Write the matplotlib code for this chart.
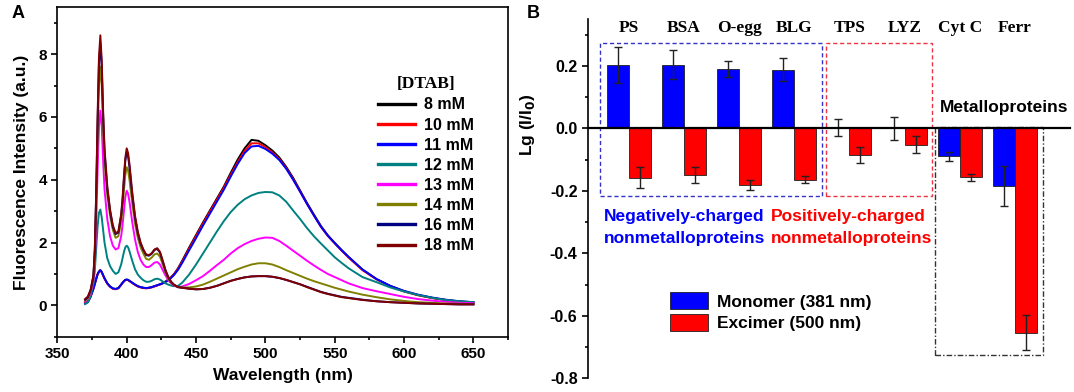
import matplotlib
matplotlib.use("Agg")
import matplotlib.pyplot as plt
from matplotlib.patches import Rectangle
from matplotlib.ticker import MultipleLocator
import numpy as np

plt.rcParams['font.family'] = ['Liberation Sans', 'DejaVu Sans']
plt.rcParams['font.weight'] = 'bold'
plt.rcParams['axes.unicode_minus'] = False

# ---- Panel A: emission spectra at different [DTAB] ----
wavelength = [370, 372, 374, 376, 377, 378, 379, 380, 381, 382, 383, 384,
              386, 388, 390, 392, 394, 396,
              397, 398, 399, 400, 401, 402,
              404, 406, 408, 410, 412, 414, 416, 418, 420, 422, 424, 426, 428, 430, 432, 434,
              437, 440,
              445, 450, 455, 460, 465, 470, 475, 480, 485, 490, 495, 500, 505, 510, 515, 520,
              525, 530, 535, 540, 545, 550, 555, 560,
              570, 580, 590, 600, 610, 620, 630, 640, 650]

dtab_8 = [0.08, 0.12, 0.3, 0.55, 0.7, 0.85, 1.0, 1.08, 1.12, 1.06, 0.96, 0.86,
          0.7, 0.6, 0.54, 0.52, 0.55, 0.66,
          0.72, 0.77, 0.81, 0.82, 0.81, 0.78,
          0.72, 0.66, 0.61, 0.58, 0.56, 0.55, 0.56, 0.58, 0.61, 0.64, 0.67, 0.71, 0.76, 0.82, 0.9, 0.99,
          1.18, 1.42,
          1.84, 2.24, 2.64, 3.02, 3.4, 3.78, 4.22, 4.64, 5.0, 5.27, 5.24, 5.1, 4.93, 4.71, 4.41, 4.06,
          3.66, 3.26, 2.89, 2.53, 2.23, 1.99, 1.76, 1.54,
          1.14, 0.84, 0.62, 0.45, 0.33, 0.24, 0.17, 0.12, 0.09]
dtab_10 = [0.07, 0.11, 0.28, 0.53, 0.68, 0.84, 0.98, 1.07, 1.11, 1.05, 0.95, 0.85,
           0.69, 0.59, 0.53, 0.51, 0.54, 0.65,
           0.71, 0.76, 0.8, 0.81, 0.8, 0.77,
           0.71, 0.65, 0.6, 0.57, 0.55, 0.54, 0.55, 0.57, 0.6, 0.63, 0.66, 0.7, 0.75, 0.81, 0.89, 0.98,
           1.16, 1.39,
           1.8, 2.2, 2.6, 2.98, 3.36, 3.74, 4.16, 4.56, 4.92, 5.16, 5.16, 5.04, 4.87, 4.66, 4.37, 4.02,
           3.63, 3.23, 2.86, 2.5, 2.21, 1.97, 1.74, 1.52,
           1.12, 0.83, 0.61, 0.44, 0.32, 0.23, 0.17, 0.12, 0.09]
dtab_11 = [0.05, 0.1, 0.27, 0.52, 0.67, 0.83, 0.98, 1.07, 1.12, 1.06, 0.96, 0.86,
           0.7, 0.6, 0.54, 0.52, 0.55, 0.66,
           0.72, 0.77, 0.81, 0.82, 0.81, 0.78,
           0.72, 0.66, 0.61, 0.58, 0.56, 0.55, 0.56, 0.58, 0.61, 0.64, 0.67, 0.7, 0.74, 0.8, 0.87, 0.96,
           1.13, 1.35,
           1.75, 2.14, 2.54, 2.92, 3.3, 3.68, 4.1, 4.5, 4.85, 5.06, 5.08, 4.98, 4.83, 4.63, 4.35, 4.0,
           3.62, 3.23, 2.86, 2.51, 2.22, 1.98, 1.75, 1.54,
           1.14, 0.84, 0.62, 0.46, 0.34, 0.25, 0.18, 0.13, 0.1]
dtab_12 = [0.04, 0.1, 0.3, 0.7, 1.1, 1.8, 2.5, 2.95, 3.05, 2.8, 2.4, 2.0,
           1.5, 1.25, 1.1, 1.0, 1.05, 1.3,
           1.5, 1.7, 1.85, 1.9, 1.85, 1.72,
           1.42, 1.15, 0.98, 0.88, 0.8, 0.75, 0.75, 0.78, 0.83, 0.85, 0.82, 0.76, 0.7, 0.66, 0.63, 0.61,
           0.62, 0.72,
           0.98, 1.3, 1.65, 2.0, 2.35, 2.68, 2.97, 3.2, 3.38, 3.5, 3.58, 3.61, 3.6, 3.5, 3.3, 3.02,
           2.75, 2.46, 2.2, 1.97, 1.75, 1.53, 1.35, 1.18,
           0.9, 0.74, 0.57, 0.44, 0.33, 0.24, 0.17, 0.13, 0.1]
dtab_13 = [0.12, 0.2, 0.4, 0.8, 1.35, 2.6, 4.3, 5.7, 6.2, 5.7, 4.6, 3.7,
           2.75, 2.2, 1.9, 1.78, 1.82, 2.2,
           2.55, 3.0, 3.45, 3.65, 3.55, 3.3,
           2.65, 2.1, 1.7, 1.45, 1.3, 1.22, 1.22, 1.28, 1.36, 1.38, 1.3, 1.12, 0.95, 0.8, 0.7, 0.63,
           0.58, 0.6,
           0.68, 0.8, 0.93, 1.1, 1.28, 1.45, 1.65, 1.82, 1.95, 2.05, 2.12, 2.16, 2.15, 2.05, 1.9, 1.74,
           1.58, 1.42, 1.27, 1.13, 1.0, 0.9, 0.8, 0.7,
           0.55, 0.45, 0.36, 0.27, 0.2, 0.15, 0.11, 0.08, 0.07]
dtab_14 = [0.15, 0.22, 0.45, 0.9, 1.6, 3.2, 5.3, 7.0, 7.6, 7.0, 5.6, 4.6,
           3.5, 2.85, 2.4, 2.15, 2.2, 2.65,
           3.05, 3.65, 4.15, 4.4, 4.3, 4.0,
           3.25, 2.6, 2.15, 1.85, 1.65, 1.48, 1.45, 1.52, 1.62, 1.65, 1.55, 1.3, 1.05, 0.85, 0.72, 0.65,
           0.58, 0.57,
           0.57, 0.6, 0.66, 0.75, 0.85, 0.95, 1.05, 1.15, 1.23, 1.3, 1.34, 1.34, 1.3, 1.22, 1.12, 1.03,
           0.94, 0.85, 0.77, 0.7, 0.63, 0.56, 0.5, 0.44,
           0.34, 0.26, 0.19, 0.14, 0.1, 0.08, 0.06, 0.05, 0.04]
dtab_16 = [0.18, 0.26, 0.48, 0.93, 1.75, 3.5, 5.8, 7.7, 8.35, 7.6, 6.05, 4.9,
           3.7, 3.0, 2.5, 2.27, 2.32, 2.85,
           3.32, 4.0, 4.6, 4.88, 4.75, 4.4,
           3.52, 2.8, 2.3, 1.97, 1.76, 1.6, 1.58, 1.64, 1.76, 1.8, 1.68, 1.4, 1.1, 0.89, 0.75, 0.66,
           0.58, 0.56,
           0.53, 0.51, 0.52, 0.56, 0.62, 0.7, 0.78, 0.84, 0.89, 0.92, 0.93, 0.93, 0.91, 0.87, 0.81, 0.74,
           0.67, 0.59, 0.51, 0.43, 0.37, 0.32, 0.27, 0.24,
           0.18, 0.13, 0.1, 0.08, 0.06, 0.05, 0.04, 0.03, 0.03]
dtab_18 = [0.2, 0.28, 0.5, 0.95, 1.8, 3.6, 6.0, 7.9, 8.6, 7.8, 6.2, 5.0,
           3.8, 3.05, 2.55, 2.3, 2.35, 2.9,
           3.4, 4.1, 4.7, 5.0, 4.85, 4.5,
           3.6, 2.85, 2.35, 2.0, 1.78, 1.62, 1.6, 1.66, 1.78, 1.82, 1.7, 1.42, 1.12, 0.9, 0.75, 0.66,
           0.58, 0.56,
           0.53, 0.51, 0.52, 0.56, 0.62, 0.7, 0.78, 0.84, 0.89, 0.92, 0.93, 0.93, 0.91, 0.87, 0.81, 0.74,
           0.67, 0.58, 0.5, 0.42, 0.36, 0.31, 0.26, 0.23,
           0.17, 0.13, 0.1, 0.08, 0.06, 0.05, 0.04, 0.03, 0.03]

spectra = [dtab_8, dtab_10, dtab_11, dtab_12, dtab_13, dtab_14, dtab_16, dtab_18]
spectra_labels = ['8 mM', '10 mM', '11 mM', '12 mM', '13 mM', '14 mM', '16 mM', '18 mM']
spectra_colors = ['#000000', '#ff0000', '#0000ff', '#008080', '#ff00ff', '#808000', '#000080', '#800000']

# ---- Panel B: Lg(I/I0) per protein ----
proteins = ['PS', 'BSA', 'O-egg', 'BLG', 'TPS', 'LYZ', 'Cyt C', 'Ferr']
monomer = [0.202, 0.204, 0.189, 0.187, 0.002, 0.0, -0.090, -0.185]
monomer_err = [0.058, 0.047, 0.026, 0.037, 0.027, 0.037, 0.015, 0.065]
excimer = [-0.158, -0.149, -0.181, -0.164, -0.085, -0.052, -0.156, -0.654]
excimer_err = [0.033, 0.025, 0.016, 0.011, 0.025, 0.028, 0.011, 0.057]

fig = plt.figure(figsize=(10.74, 3.92), dpi=100)

# Panel A
ax1 = fig.add_axes([0.0534, 0.141, 0.4197, 0.841])
for y, lab, c in zip(spectra, spectra_labels, spectra_colors):
    ax1.plot(wavelength, y, color=c, lw=1.4, label=lab)
ax1.set_xlim(350, 675)
ax1.set_ylim(-1, 9.5)
ax1.xaxis.set_major_locator(MultipleLocator(50))
ax1.xaxis.set_minor_locator(MultipleLocator(25))
ax1.yaxis.set_major_locator(MultipleLocator(2))
ax1.yaxis.set_minor_locator(MultipleLocator(1))
ax1.tick_params(which='both', direction='out', width=1.2, labelsize=11)
ax1.tick_params(which='major', length=4)
ax1.tick_params(which='minor', length=2.5)
for s in ax1.spines.values():
    s.set_linewidth(1.2)
ax1.set_xlabel('Wavelength (nm)', fontsize=12.5, fontweight='bold', labelpad=5)
ax1.set_ylabel('Fluorescence Intensity (a.u.)', fontsize=12.5, fontweight='bold', labelpad=7)
leg = ax1.legend(loc='upper left', bbox_to_anchor=(0.712, 0.79), frameon=False,
                 fontsize=11.5, handlelength=2.3, handletextpad=0.55, labelspacing=0.32,
                 borderpad=0, borderaxespad=0, title='[DTAB]',
                 title_fontproperties={'family': 'Liberation Serif', 'weight': 'bold', 'size': 12.5})
for line in leg.get_lines():
    line.set_linewidth(2.4)
fig.text(0.011, 0.965, 'A', fontsize=13, fontweight='bold', va='center')

# Panel B
ax2 = fig.add_axes([0.5475, 0.035, 0.449, 0.9166])
x = np.arange(len(proteins))
w = 0.4
ax2.bar(x - w / 2, monomer, w, color='#0000ff', edgecolor='#202020', lw=0.6,
        label='Monomer (381 nm)')
ax2.bar(x + w / 2, excimer, w, color='#ff0000', edgecolor='#202020', lw=0.6,
        label='Excimer (500 nm)')
ax2.errorbar(x - w / 2, monomer, yerr=monomer_err, fmt='none', ecolor='#222222',
             elinewidth=1, capsize=3, capthick=1)
ax2.errorbar(x + w / 2, excimer, yerr=excimer_err, fmt='none', ecolor='#222222',
             elinewidth=1, capsize=3, capthick=1)
ax2.set_xlim(-0.735, 8.0)
ax2.set_ylim(-0.8, 0.35)
ax2.spines['top'].set_visible(False)
ax2.spines['right'].set_visible(False)
ax2.spines['bottom'].set_position(('data', 0))
ax2.spines['bottom'].set_linewidth(1.6)
ax2.spines['left'].set_linewidth(1.2)
ax2.set_xticks([])
ax2.yaxis.set_major_locator(MultipleLocator(0.2))
ax2.yaxis.set_minor_locator(MultipleLocator(0.1))
ax2.tick_params(which='both', direction='out', width=1.2, labelsize=11.5)
ax2.tick_params(which='major', length=4)
ax2.tick_params(which='minor', length=2.5)
ax2.set_ylabel('Lg (I/I$_\\mathbf{0}$)', fontsize=12.5, fontweight='bold')
ax2.yaxis.set_label_coords(-0.105, 0.705)

for xi, name in zip(x, proteins):
    ax2.text(xi, 0.322, name, ha='center', va='center', fontsize=12.5,
             family='Liberation Serif', fontweight='bold')

ax2.add_patch(Rectangle((-0.51, -0.217), 4.01, 0.489, fill=False, edgecolor='#3333cc',
                        lw=1, ls=(0, (3, 2))))
ax2.add_patch(Rectangle((3.58, -0.218), 1.92, 0.49, fill=False, edgecolor='#ee3344',
                        lw=1, ls=(0, (3, 2))))
ax2.add_patch(Rectangle((5.55, -0.725), 1.96, 0.73, fill=False, edgecolor='#333333',
                        lw=1, ls=(0, (4, 1.5, 1, 1.5))))

ax2.text(-0.45, -0.282, 'Negatively-charged', color='#0000ff', fontsize=12.5,
         fontweight='bold', va='center')
ax2.text(-0.45, -0.353, 'nonmetalloproteins', color='#0000ff', fontsize=12.5,
         fontweight='bold', va='center')
ax2.text(2.58, -0.282, 'Positively-charged', color='#ff0000', fontsize=12.5,
         fontweight='bold', va='center')
ax2.text(2.58, -0.353, 'nonmetalloproteins', color='#ff0000', fontsize=12.5,
         fontweight='bold', va='center')
ax2.text(5.63, 0.067, 'Metalloproteins', color='black', fontsize=12.5,
         fontweight='bold', va='center')

ax2.legend(loc='upper left', bbox_to_anchor=(0.75, -0.525), bbox_transform=ax2.transData,
           frameon=False, fontsize=12.5, handlelength=2.2, handleheight=1.1,
           handletextpad=0.5, labelspacing=0.25, borderpad=0, borderaxespad=0)
fig.text(0.49, 0.965, 'B', fontsize=13, fontweight='bold', va='center')

fig.savefig('out.png', dpi=100)
